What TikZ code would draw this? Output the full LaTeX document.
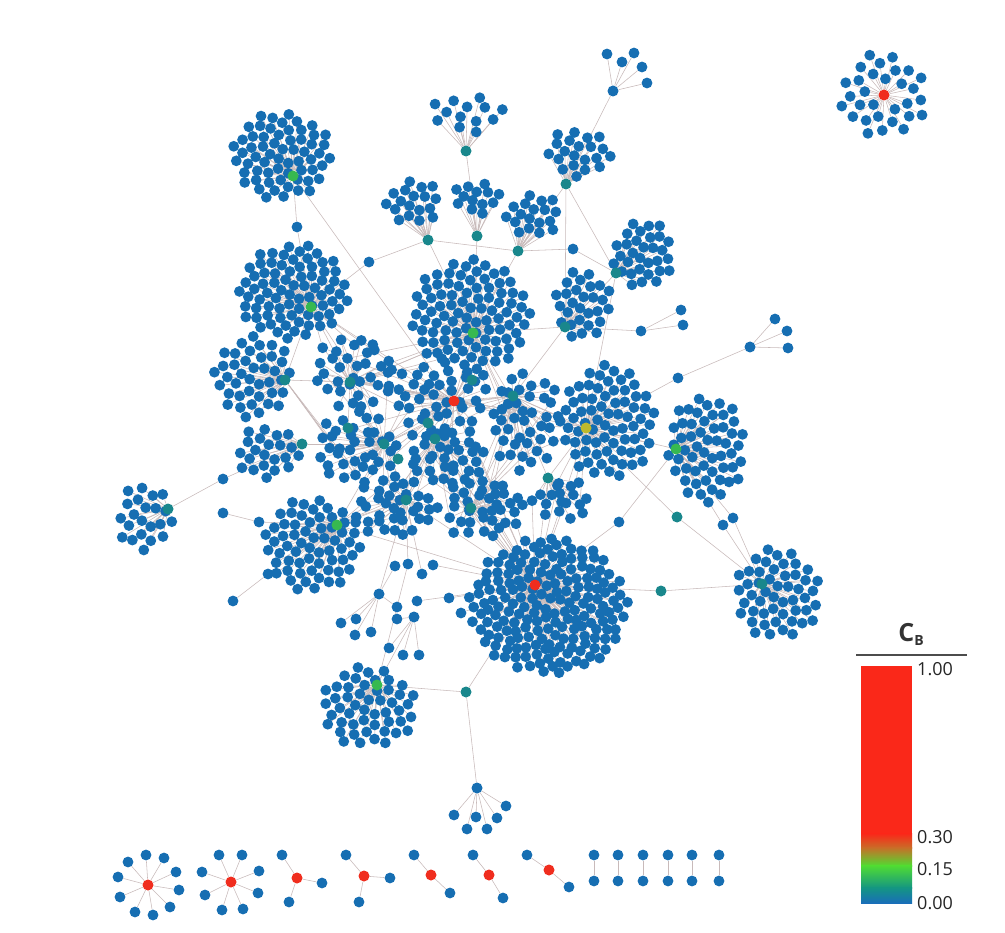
\documentclass[tikz,border=0pt]{standalone}
\usepackage{fontspec}
\setmainfont{Open Sans}
\definecolor{nblue}{RGB}{22,110,178}
\definecolor{nred}{RGB}{240,45,30}
\definecolor{ngreen}{RGB}{55,185,80}
\definecolor{nteal}{RGB}{25,135,140}
\definecolor{nyellow}{RGB}{190,185,45}
\definecolor{ecol}{RGB}{200,186,186}
\definecolor{cbblue}{RGB}{25,110,185}
\definecolor{cbteal}{RGB}{20,150,130}
\definecolor{cbgreen}{RGB}{80,220,50}
\definecolor{cborange}{RGB}{200,110,40}
\definecolor{cbred}{RGB}{250,40,25}
\pgfdeclarelayer{paper}\pgfdeclarelayer{bg}
\pgfsetlayers{paper,bg,main}
\tikzset{
 leaf/.style={circle,fill=nblue,inner sep=0pt,minimum size=10.8pt},
 hub/.style={circle,inner sep=0pt,minimum size=11pt},
 edge/.style={draw=ecol,line width=0.55pt},
 lbl/.style={anchor=west,font=\fontsize{18}{18}\selectfont,text=black!85,inner sep=0pt},
}
\def\jit{0}\def\hole{0}\def\rot{0}
% name, cx, cy, rx, ry, N  (leaves of one star, placed on a sunflower spiral)
\newcommand\cluster[6]{%
 \foreach \i in {1,...,#6}{%
   \pgfmathsetmacro\s{sqrt(\hole*\hole+(1-\hole*\hole)*(\i-0.5)/#6)}%
   \pgfmathsetmacro\a{mod(\i*0.381966,1)*360+\rot}%
   \pgfmathsetmacro\px{#2+#4*\s*cos(\a)+\jit*rand}%
   \pgfmathsetmacro\py{#3+#5*\s*sin(\a)+\jit*rand}%
   \node[leaf] (#1-\i) at (\px,\py) {};
 }}
% name, list of leaf positions
\newcommand\leafset[2]{%
 \foreach \u/\v [count=\k] in {#2}{\node[leaf] (#1-\k) at (\u,\v) {};}}
\begin{document}
\begin{tikzpicture}[x=1pt,y=-1pt]
\pgfmathsetseed{7}
\begin{pgfonlayer}{paper}
\fill[white] (0,0) rectangle (1005,933);
\end{pgfonlayer}
\useasboundingbox (0,0) rectangle (1005,933);

% ---------- leaves of the big stars ----------
\def\hole{0.3}
\cluster{TR}{884}{95}{44}{44}{30}
\def\hole{0}
\cluster{TL}{282}{156}{51}{44}{62}
\cluster{Ta}{466}{114}{38}{21}{13}
\cluster{Tb}{578}{153}{33}{25}{21}
\cluster{Tc}{413}{203}{28}{24}{18}
\cluster{Td}{476}{198}{24}{18}{13}
\cluster{Te}{533}{216}{28}{23}{18}
\cluster{Tf}{643}{255}{31}{35}{31}
\cluster{B}{293}{292}{56}{48}{78}
\cluster{C10}{470}{315}{61}{56}{92}
\cluster{C11}{583}{305}{30}{35}{28}
\cluster{L12}{253}{376}{40}{42}{40}
\def\jit{3.5}
\cluster{M1}{440}{395}{52}{36}{40}
\cluster{M2}{356}{448}{42}{36}{36}
\cluster{M3}{355}{372}{40}{38}{34}
\cluster{M4}{446}{456}{40}{30}{34}
\cluster{M5}{525}{420}{35}{50}{40}
\cluster{M6}{485}{508}{42}{30}{36}
\cluster{M7}{396}{508}{42}{30}{36}
\cluster{M8}{562}{500}{28}{22}{18}
\def\jit{0}
\cluster{Y}{608}{422}{48}{58}{72}
\cluster{G15}{707}{449}{40}{54}{54}
\cluster{L16}{268}{452}{32}{28}{22}
\cluster{L19}{145}{517}{28}{36}{22}
\cluster{G20}{313}{545}{50}{47}{62}
\def\jit{1.5}
\cluster{R21}{549}{606}{79}{69}{182}
\def\jit{0}
\cluster{T22}{777}{594}{44}{46}{50}
\cluster{G23}{368}{707}{49}{41}{50}

% ---------- leaves of the small stars ----------
\leafset{Tt}{607/54,622/62,634/53,642/67,647/83}
\leafset{SH}{775/319,787/331,788/348}
\leafset{BF}{454/815,476/817,497/818,506/806,467/829,487/829}
\leafset{ga}{341/623,356/619,355/635,371/632}
\leafset{gb}{389/648,403/655,419/655,397/619}
\leafset{b1}{146/855,164/858,128/862,176/872,118/877,179/890,120/897,170/907,135/912,153/915}
\leafset{b2}{219/855,242/855,202/872,259/871,205/895,258/893,222/910,243/909}
\leafset{b3}{282/855,322/883,289/902}
\leafset{b4}{346/855,390/878,359/902}
\leafset{b5}{414/855,450/893}
\leafset{b6}{473/855,503/898}
\leafset{b7}{527/855,569/887}
\foreach \x [count=\k] in {594,618,643,668,692,719}{
  \node[leaf] (pa\k) at (\x,855) {};
  \node[leaf] (pb\k) at (\x,881) {};
}

% ---------- single nodes ----------
\node[leaf] (s1) at (297,227) {};
\node[leaf] (s2) at (369,262) {};
\node[leaf] (s3) at (573,249) {};
\node[leaf] (s4) at (641,331) {};
\node[leaf] (s5) at (681,310) {};
\node[leaf] (s6) at (683,325) {};
\node[leaf] (s7) at (678,378) {};
\node[hub,fill=nteal] (s8) at (677,517) {};
\node[leaf] (s9) at (723,525) {};
\node[leaf] (s10) at (733,518) {};
\node[leaf] (s11) at (619,522) {};
\node[hub,fill=nteal] (s12) at (661,591) {};
\node[hub,fill=nteal] (s13) at (466,692) {};
\node[leaf] (s14) at (223,479) {};
\node[leaf] (s15) at (223,513) {};
\node[leaf] (s16) at (259,522) {};
\node[leaf] (s17) at (268,574) {};
\node[leaf] (s18) at (233,601) {};
\node[leaf] (s21) at (397,607) {};
\node[leaf] (s22) at (417,601) {};
\node[leaf] (s23) at (449,598) {};
\node[leaf] (s24) at (461,613) {};
\node[leaf] (s25) at (422,574) {};
\node[leaf] (s26) at (408,564) {};
\node[leaf] (s27) at (395,566) {};
\node[leaf] (s28) at (433,565) {};
\node[hub,fill=nteal] (s29) at (472,380) {};
\node[hub,fill=nteal] (s30) at (428,423) {};
\node[hub,fill=nteal] (s31) at (348,428) {};
\node[hub,fill=nteal] (s32) at (398,459) {};

% ---------- hubs (drawn last, on top) ----------
\node[hub,fill=nred] (TR) at (884,95) {};
\node[hub,fill=ngreen] (TL) at (293,176) {};
\node[hub,fill=nteal] (Ta) at (466,151) {};
\node[hub,fill=nteal] (Tb) at (566,184) {};
\node[hub,fill=nteal] (Tc) at (428,240) {};
\node[hub,fill=nteal] (Td) at (477,236) {};
\node[hub,fill=nteal] (Te) at (518,251) {};
\node[hub,fill=nteal] (Tf) at (616,273) {};
\node[hub,fill=ngreen] (B) at (311,307) {};
\node[hub,fill=ngreen] (C10) at (473,333) {};
\node[hub,fill=nteal] (C11) at (565,327) {};
\node[hub,fill=nteal] (L12) at (285,380) {};
\node[hub,fill=nred] (M1) at (454,401) {};
\node[hub,fill=nteal] (M2) at (384,444) {};
\node[hub,fill=nteal] (M3) at (350,382) {};
\node[hub,fill=nteal] (M4) at (435,439) {};
\node[hub,fill=nteal] (M5) at (513,396) {};
\node[hub,fill=nteal] (M6) at (471,508) {};
\node[hub,fill=nteal] (M7) at (406,500) {};
\node[hub,fill=nteal] (M8) at (548,478) {};
\node[hub,fill=nyellow] (Y) at (586,428) {};
\node[hub,fill=ngreen] (G15) at (676,449) {};
\node[hub,fill=nteal] (L16) at (302,444) {};
\node[hub,fill=nteal] (L19) at (168,509) {};
\node[hub,fill=ngreen] (G20) at (337,525) {};
\node[hub,fill=nred] (R21) at (535,585) {};
\node[hub,fill=nteal] (T22) at (762,584) {};
\node[hub,fill=ngreen] (G23) at (377,685) {};
\node[hub,fill=nblue] (Tt) at (613,91) {};
\node[hub,fill=nblue] (SH) at (750,347) {};
\node[hub,fill=nblue] (BF) at (477,788) {};
\node[hub,fill=nblue] (ga) at (379,594) {};
\node[hub,fill=nblue] (gb) at (414,617) {};
\node[hub,fill=nred] (b1) at (148,885) {};
\node[hub,fill=nred] (b2) at (231,882) {};
\node[hub,fill=nred] (b3) at (297,878) {};
\node[hub,fill=nred] (b4) at (364,876) {};
\node[hub,fill=nred] (b5) at (431,875) {};
\node[hub,fill=nred] (b6) at (489,875) {};
\node[hub,fill=nred] (b7) at (549,870) {};

% ---------- all connectors, under the nodes ----------
\begin{pgfonlayer}{bg}
\foreach \c/\n in {TR/30,TL/62,Ta/13,Tb/21,Tc/18,Td/13,Te/18,Tf/31,B/78,C10/92,
  C11/28,L12/40,M1/40,M2/36,M3/34,M4/34,M5/40,M6/36,M7/36,M8/18,Y/72,G15/54,L16/22,
  L19/22,G20/62,R21/182,T22/50,G23/50,Tt/5,SH/3,BF/6,ga/4,gb/4,b1/10,b2/8,
  b3/3,b4/3,b5/2,b6/2,b7/2}{
  \foreach \i in {1,...,\n}{\draw[edge] (\c) -- (\c-\i);}
}
\foreach \k in {1,...,6}{\draw[edge] (pa\k) -- (pb\k);}
\draw[edge] (TL) -- (s1) -- (B);
\draw[edge] (TL) -- (M1);
\draw[edge] (Tc) -- (s2) -- (B);
\draw[edge] (Tc) -- (C10);
\draw[edge] (Tc) -- (Te);
\draw[edge] (Ta) -- (Td);
\draw[edge] (Td) -- (C10);
\draw[edge] (Tb) -- (Tt);
\draw[edge] (Tb) -- (Te);
\draw[edge] (Tb) -- (Tf);
\draw[edge] (Tb) -- (C11);
\draw[edge] (Te) -- (s3) -- (Tf);
\draw[edge] (Te) -- (C10);
\draw[edge] (Tf) -- (C11);
\draw[edge] (Tf) -- (Y);
\draw[edge] (C11) -- (s4) -- (s5);
\draw[edge] (s4) -- (s6);
\draw[edge] (SH) -- (s7) -- (Y);
\draw[edge] (Y) -- (G15);
\draw[edge] (Y) -- (s8) -- (T22);
\draw[edge] (G15) -- (s9) -- (T22);
\draw[edge] (G15) -- (s10) -- (T22);
\draw[edge] (G15) -- (s11) -- (R21);
\draw[edge] (R21) -- (s12) -- (T22);
\draw[edge] (R21) -- (s13) -- (G23);
\draw[edge] (s13) -- (BF);
\draw[edge] (L19) -- (s14) -- (L16);
\draw[edge] (s15) -- (s16) -- (G20);
\draw[edge] (G20) -- (s17) -- (s18);
\draw[edge] (B) -- (L12);
\draw[edge] (L12) -- (M3);
\draw[edge] (L16) -- (M2);
\draw[edge] (B) -- (M3);
\draw[edge] (G20) -- (M2);
\draw[edge] (G20) -- (M7);
\draw[edge] (G20) -- (R21);
\draw[edge] (M1) -- (C10);
\draw[edge] (M1) -- (Y);
\draw[edge] (M1) -- (R21);
\draw[edge] (M1) -- (M2);
\draw[edge] (M1) -- (M4);
\draw[edge] (M1) -- (M5);
\draw[edge] (M1) -- (M3);
\draw[edge] (M5) -- (Y);
\draw[edge] (M6) -- (R21);
\draw[edge] (M4) -- (R21);
\draw[edge] (M7) -- (R21);
\draw[edge] (M8) -- (R21);
\draw[edge] (M8) -- (Y);
\draw[edge] (M8) -- (M5);
\draw[edge] (M1) -- (B);
\draw[edge] (C10) -- (C11);
\draw[edge] (M5) -- (C11);
\draw[edge] (M1) -- (s29);
\draw[edge] (M1) -- (s30);
\draw[edge] (M3) -- (s31);
\draw[edge] (M2) -- (s32);
\draw[edge] (G23) -- (gb);
\draw[edge] (G23) -- (s26);
\draw[edge] (ga) -- (M7);
\draw[edge] (s21) -- (ga);
\draw[edge] (s22) -- (R21);
\draw[edge] (s23) -- (R21);
\draw[edge] (s24) -- (R21);
\draw[edge] (s25) -- (M7);
\draw[edge] (s26) -- (M7);
\draw[edge] (s27) -- (ga);
\draw[edge] (s28) -- (R21);
\foreach \h/\c/\n in {M1/M2/36, M1/M4/34, M1/M5/40, M1/M3/34, M2/M3/34, M2/M7/36,
  M4/M6/36, M5/M6/36, C10/M1/40, C10/M5/40, B/M3/34, L12/M2/36, Y/M5/40,
  R21/M6/36, R21/M4/34, G20/M7/36, M3/M1/40, M2/M1/40, M4/M1/40, M5/M1/40,
  M7/M4/34, M6/M5/40, R21/M8/18, Y/M8/18, M4/M7/36, M6/M4/34, C10/M3/34}{
  \foreach \k in {1,...,4}{
    \pgfmathrandominteger{\rr}{1}{\n}
    \draw[edge] (\h) -- (\c-\rr);
  }
}
\end{pgfonlayer}

% ---------- legend ----------
\node[font=\fontsize{25}{25}\selectfont\bfseries,text=black!80,inner sep=0pt] (cbt) at (911,634)
  {C\raisebox{-0.3ex}{\fontsize{14}{14}\selectfont B}};
\draw[line width=2.2pt,draw=black!70] (856,655) -- (967,655);
\fill[cbred] (861,666) rectangle (912,834);
\shade[top color=cbred,bottom color=cborange] (861,833.5) rectangle (912,848);
\shade[top color=cborange,bottom color=cbgreen] (861,847.5) rectangle (912,866);
\shade[top color=cbgreen,bottom color=cbteal] (861,865.5) rectangle (912,888);
\shade[top color=cbteal,bottom color=cbblue] (861,887.5) rectangle (912,903);
\node[lbl] (l100) at (917,669) {1.00};
\node[lbl] (l030) at (917,837) {0.30};
\node[lbl] (l015) at (917,869) {0.15};
\node[lbl] (l000) at (917,903) {0.00};
\end{tikzpicture}
\end{document}
